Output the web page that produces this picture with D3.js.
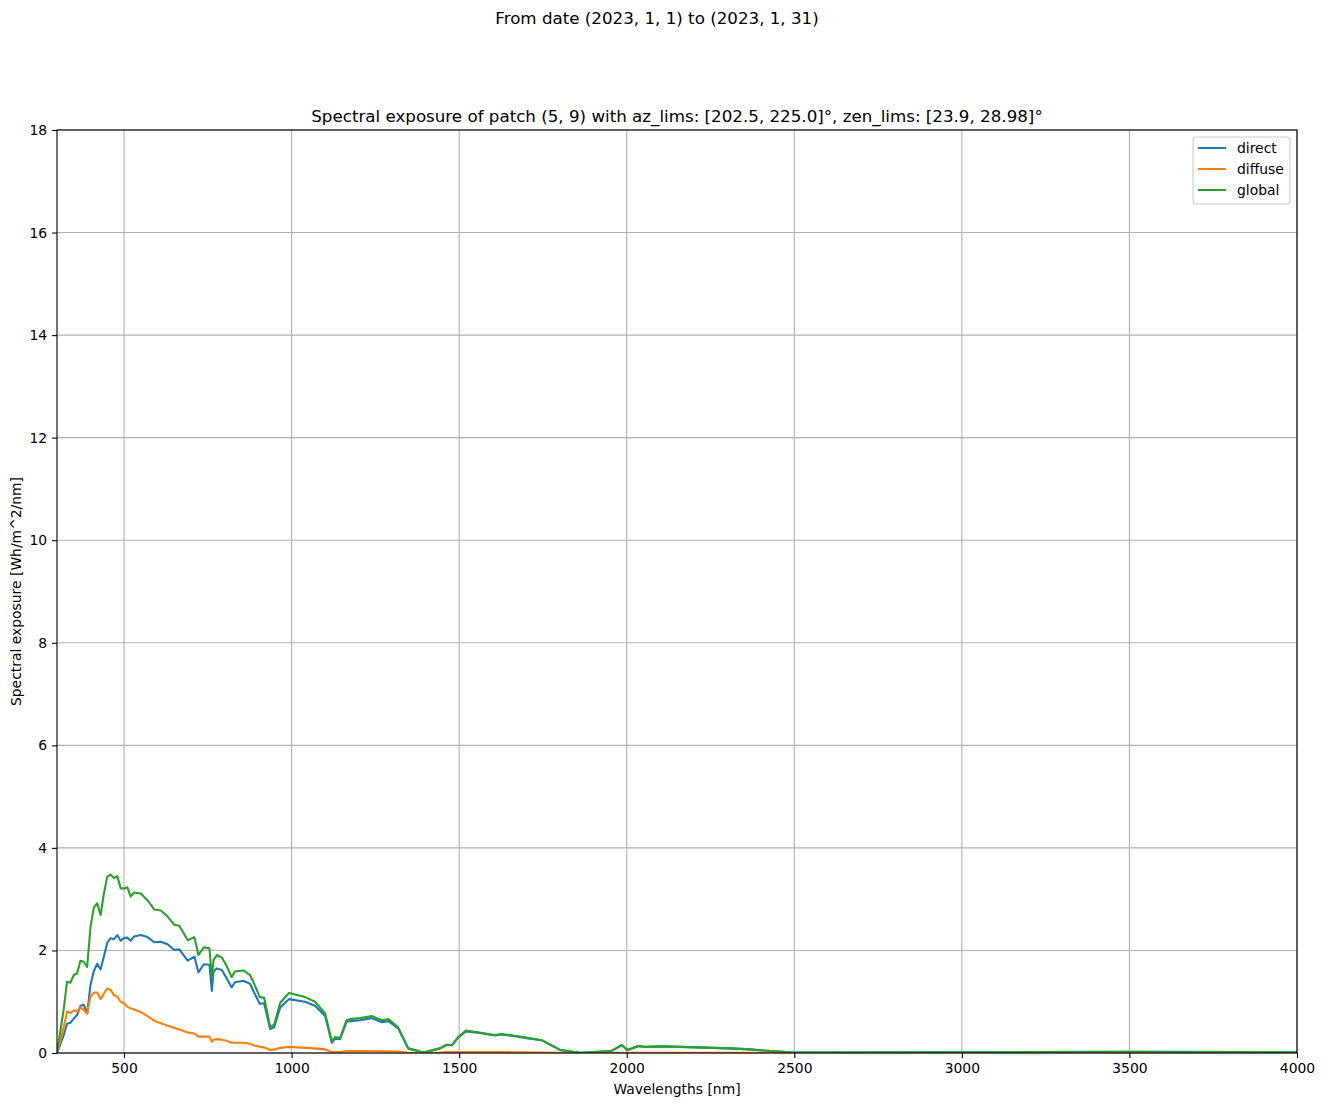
<!DOCTYPE html>
<html>
<head>
<meta charset="utf-8">
<script src="https://cdn.jsdelivr.net/npm/d3@7"></script>
<style>
  html, body { margin: 0; padding: 0; background: #fff; }
  svg { display: block; font-family: "DejaVu Sans", sans-serif; }
</style>
</head>
<body>
<svg id="chart" width="1324" height="1107"></svg>
<script>
const wavelengths = [300, 320, 330, 340, 350, 360, 370, 380, 390, 400, 410, 420, 430, 440, 450, 460, 470, 480, 490, 500, 510, 520, 530, 550, 570, 590, 610, 630, 650, 665, 690, 710, 722, 738, 755, 762, 767, 777, 792, 806, 821, 831, 856, 876, 891, 905, 918, 936, 948, 966, 992, 1040, 1070, 1100, 1120, 1130, 1145, 1164, 1174, 1204, 1239, 1269, 1289, 1318, 1348, 1393, 1443, 1463, 1478, 1497, 1520, 1561, 1606, 1626, 1661, 1701, 1746, 1801, 1861, 1955, 1985, 2002, 2035, 2055, 2109, 2209, 2308, 2367, 2408, 2487, 2600, 3000, 3500, 4000];

const directValues = [0, 0.35, 0.57, 0.59, 0.67, 0.74, 0.92, 0.94, 0.77, 1.33, 1.60, 1.74, 1.63, 1.88, 2.15, 2.24, 2.22, 2.30, 2.19, 2.24, 2.25, 2.19, 2.27, 2.30, 2.26, 2.16, 2.17, 2.12, 2.01, 2.02, 1.80, 1.88, 1.57, 1.73, 1.72, 1.21, 1.59, 1.65, 1.62, 1.46, 1.28, 1.38, 1.41, 1.35, 1.14, 0.96, 0.97, 0.47, 0.50, 0.89, 1.05, 1.00, 0.92, 0.72, 0.20, 0.28, 0.27, 0.61, 0.62, 0.64, 0.68, 0.60, 0.62, 0.48, 0.09, 0.01, 0.09, 0.16, 0.15, 0.30, 0.42, 0.39, 0.34, 0.36, 0.33, 0.29, 0.25, 0.06, 0.005, 0.04, 0.15, 0.06, 0.13, 0.12, 0.13, 0.11, 0.09, 0.07, 0.05, 0.015, 0.01, 0.015, 0.025, 0.015];

const diffuseValues = [0, 0.5, 0.81, 0.78, 0.83, 0.81, 0.89, 0.84, 0.77, 1.10, 1.18, 1.18, 1.05, 1.16, 1.26, 1.23, 1.13, 1.10, 1.00, 0.97, 0.90, 0.87, 0.85, 0.80, 0.72, 0.63, 0.58, 0.53, 0.49, 0.46, 0.40, 0.38, 0.32, 0.32, 0.32, 0.22, 0.26, 0.27, 0.26, 0.24, 0.20, 0.20, 0.20, 0.18, 0.14, 0.12, 0.11, 0.06, 0.07, 0.10, 0.12, 0.10, 0.09, 0.07, 0.02, 0.02, 0.02, 0.04, 0.04, 0.04, 0.04, 0.035, 0.035, 0.03, 0.005, 0, 0.01, 0.02, 0.02, 0.02, 0.02, 0.02, 0.02, 0.02, 0.015, 0.015, 0.01, 0.003, 0, 0.002, 0.005, 0.002, 0.004, 0.004, 0.004, 0.003, 0.003, 0.002, 0.002, 0.001, 0.001, 0.001, 0.001, 0.001];

const globalValues = [0, 0.85, 1.39, 1.37, 1.52, 1.55, 1.80, 1.78, 1.68, 2.46, 2.84, 2.92, 2.69, 3.11, 3.44, 3.48, 3.41, 3.45, 3.21, 3.21, 3.23, 3.05, 3.13, 3.11, 2.98, 2.80, 2.78, 2.66, 2.50, 2.48, 2.20, 2.26, 1.91, 2.06, 2.04, 1.46, 1.81, 1.91, 1.86, 1.70, 1.48, 1.59, 1.61, 1.52, 1.31, 1.09, 1.08, 0.51, 0.55, 0.98, 1.17, 1.09, 1.00, 0.77, 0.23, 0.31, 0.29, 0.64, 0.66, 0.68, 0.72, 0.64, 0.66, 0.50, 0.09, 0.01, 0.09, 0.16, 0.15, 0.31, 0.44, 0.40, 0.35, 0.37, 0.34, 0.30, 0.25, 0.06, 0.005, 0.04, 0.16, 0.06, 0.14, 0.12, 0.13, 0.11, 0.09, 0.07, 0.05, 0.015, 0.01, 0.015, 0.025, 0.015];

const seriesNames = ["direct", "diffuse", "global"];
const seriesColors = ["#1f77b4", "#ff7f0e", "#2ca02c"];
const xTicks = [500, 1000, 1500, 2000, 2500, 3000, 3500, 4000];
const yTicks = [0, 2, 4, 6, 8, 10, 12, 14, 16, 18];
const supTitle = "From date (2023, 1, 1) to (2023, 1, 31)";
const axTitle = "Spectral exposure of patch (5, 9) with az_lims: [202.5, 225.0]°, zen_lims: [23.9, 28.98]°";
const xLabel = "Wavelengths [nm]";
const yLabel = "Spectral exposure [Wh/m^2/nm]";

const series = [directValues, diffuseValues, globalValues];

const svg = d3.select("#chart");
const L = 57, R = 1297, T = 130, B = 1053;
const fs = 13.9;

const x = d3.scaleLinear().domain([300, 4000]).range([L, R]);
const y = d3.scaleLinear().domain([0, 18]).range([B, T]);

// grid
const grid = svg.append("g");
grid.selectAll(".gx").data(xTicks).enter().append("line")
  .attr("x1", d => x(d)).attr("x2", d => x(d)).attr("y1", T).attr("y2", B)
  .attr("stroke", "#b0b0b0").attr("stroke-width", 1.1);
grid.selectAll(".gy").data(yTicks).enter().append("line")
  .attr("x1", L).attr("x2", R).attr("y1", d => y(d)).attr("y2", d => y(d))
  .attr("stroke", "#b0b0b0").attr("stroke-width", 1.1);

// lines
const clip = svg.append("clipPath").attr("id", "clip").append("rect")
  .attr("x", L).attr("y", T).attr("width", R - L).attr("height", B - T);
const lineGen = d3.line().x((d, i) => x(wavelengths[i])).y(d => y(d));
const lg = svg.append("g").attr("clip-path", "url(#clip)");
series.forEach((vals, k) => {
  lg.append("path").datum(vals).attr("d", lineGen)
    .attr("fill", "none").attr("stroke", seriesColors[k])
    .attr("stroke-width", 2.1).attr("stroke-linejoin", "round").attr("stroke-linecap", "square");
});

// axes
const xAxis = d3.axisBottom(x).tickValues(xTicks).tickSize(4.9).tickPadding(4.9).tickFormat(d3.format("d"));
const yAxis = d3.axisLeft(y).tickValues(yTicks).tickSize(4.9).tickPadding(4.9).tickFormat(d3.format("d"));
const gx = svg.append("g").attr("transform", `translate(0,${B})`).call(xAxis);
const gy = svg.append("g").attr("transform", `translate(${L},0)`).call(yAxis);
[gx, gy].forEach(g => {
  g.select(".domain").remove();
  g.selectAll(".tick line").attr("stroke", "#000").attr("stroke-width", 1.1);
  g.selectAll(".tick text").attr("fill", "#000").style("font-size", fs + "px").style("font-family", "DejaVu Sans");
});

// frame
svg.append("rect").attr("x", L).attr("y", T).attr("width", R - L).attr("height", B - T)
  .attr("fill", "none").attr("stroke", "#000").attr("stroke-width", 1.1);

// titles
svg.append("text").attr("x", 657).attr("y", 24).attr("text-anchor", "middle")
  .style("font-size", "16.7px").text(supTitle);
svg.append("text").attr("x", (L + R) / 2).attr("y", 122).attr("text-anchor", "middle")
  .style("font-size", "16.7px").text(axTitle);
svg.append("text").attr("x", (L + R) / 2).attr("y", 1094).attr("text-anchor", "middle")
  .style("font-size", fs + "px").text(xLabel);
svg.append("text").attr("transform", `translate(21,${(T + B) / 2}) rotate(-90)`).attr("text-anchor", "middle")
  .style("font-size", fs + "px").text(yLabel);

// legend
const leg = svg.append("g");
leg.append("rect").attr("x", 1193).attr("y", 137).attr("width", 97).attr("height", 67)
  .attr("rx", 3).attr("fill", "#fff").attr("fill-opacity", 0.8).attr("stroke", "#cccccc").attr("stroke-width", 1.1);
seriesNames.forEach((name, i) => {
  const yy = 148 + i * 21;
  leg.append("line").attr("x1", 1198).attr("x2", 1226).attr("y1", yy).attr("y2", yy)
    .attr("stroke", seriesColors[i]).attr("stroke-width", 2.1);
  leg.append("text").attr("x", 1237).attr("y", yy + 5).style("font-size", fs + "px").text(name);
});
</script>
</body>
</html>
